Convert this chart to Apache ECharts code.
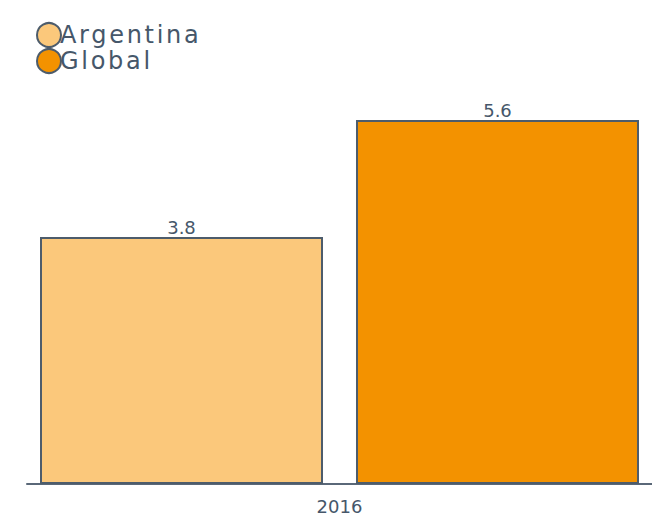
<!DOCTYPE html>
<html>
<head>
<meta charset="utf-8">
<script src="https://cdn.jsdelivr.net/npm/echarts@6/dist/echarts.min.js"></script>
<style>
html,body{margin:0;padding:0;background:#fff;}
#chart{width:652px;height:516px;}
</style>
</head>
<body>
<div id="chart"></div>
<script>
var categories = ['2016'];
var seriesNames = ['Argentina', 'Global'];
var argentina = [3.8];
var global = [5.6];
var colors = ['#fbc87b', '#f39200'];

var textColor = '#46576a';
var font = 'DejaVu Sans';
var myChart = echarts.init(document.getElementById('chart'), null, {renderer: 'svg'});

var option = {
    animation: false,
    textStyle: {fontFamily: font},
    legend: {
        orient: 'vertical',
        left: 31,
        top: 17,
        itemGap: 0,
        itemWidth: 24,
        itemHeight: 24,
        icon: 'circle',
        textStyle: {fontFamily: font, fontSize: 24, color: textColor, padding: [0, 0, 0, -6]},
        data: seriesNames
    },
    grid: {
        left: 27,
        right: 0,
        top: 94,
        bottom: 32
    },
    xAxis: {
        type: 'category',
        data: categories,
        axisLine: {lineStyle: {color: '#5a6878', width: 2}},
        axisTick: {show: false},
        axisLabel: {fontFamily: font, fontSize: 18, color: textColor, margin: 13}
    },
    yAxis: {
        type: 'value',
        min: 0,
        max: 6,
        show: false,
        splitLine: {show: false}
    },
    series: [
        {
            name: seriesNames[0],
            type: 'bar',
            data: argentina,
            barWidth: 283,
            barGap: '11.66%',
            itemStyle: {color: colors[0], borderColor: '#4d5c6b', borderWidth: 2},
            label: {show: true, position: 'top', fontFamily: font, fontSize: 18, color: textColor, distance: 1}
        },
        {
            name: seriesNames[1],
            type: 'bar',
            data: global,
            barWidth: 283,
            barGap: '11.66%',
            itemStyle: {color: colors[1], borderColor: '#4d5c6b', borderWidth: 2},
            label: {show: true, position: 'top', fontFamily: font, fontSize: 18, color: textColor, distance: 1}
        }
    ]
};
myChart.setOption(option);

// legend text in the reference is letter-spaced
document.querySelectorAll('#chart text').forEach(function (t) {
    if (seriesNames.indexOf(t.textContent) >= 0) {
        t.setAttribute('letter-spacing', '2.7');
    }
});
</script>
</body>
</html>
